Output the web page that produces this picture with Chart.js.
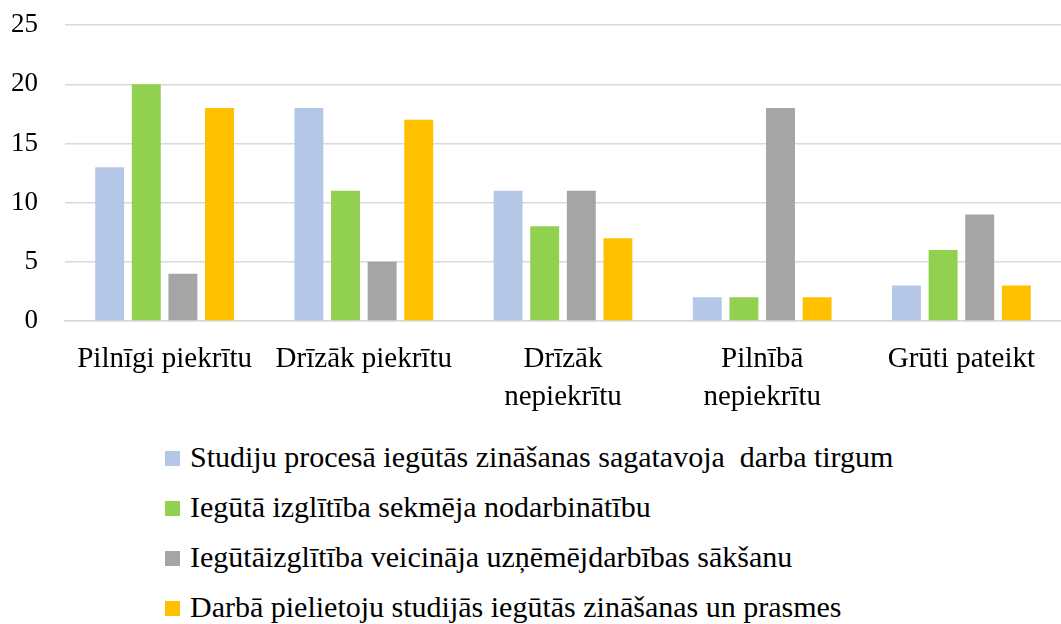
<!DOCTYPE html>
<html>
<head>
<meta charset="utf-8">
<script src="https://cdn.jsdelivr.net/npm/chart.js@4"></script>
<style>
  body { margin: 0; background: #fff; font-family: 'Liberation Serif'; }
  #wrap { position: relative; width: 1061px; height: 624px; overflow: hidden; }
  #chartBox { position: absolute; left: 0; top: -18px; width: 1061px; height: 438px; }
  #legend { position: absolute; left: 165px; top: 432px; font-size: 30px; color: #000; }
  .item { height: 50px; line-height: 50px; white-space: pre; }
  .box { display: inline-block; width: 15px; height: 15px; margin-right: 10px; vertical-align: middle; position: relative; top: -2px; }
</style>
</head>
<body>
<div id="wrap">
  <div id="chartBox"><canvas id="chart"></canvas></div>
  <div id="legend" style="font-family:'Liberation Serif'"></div>
</div>
<script>
// Kategorijas un sērijas
const categories = [
  'Pilnīgi piekrītu',
  'Drīzāk piekrītu',
  ['Drīzāk', 'nepiekrītu'],
  ['Pilnībā', 'nepiekrītu'],
  'Grūti pateikt'
];
const seriesNames = [
  'Studiju procesā iegūtās zināšanas sagatavoja  darba tirgum',
  'Iegūtā izglītība sekmēja nodarbinātību',
  'Iegūtāizglītība veicināja uzņēmējdarbības sākšanu',
  'Darbā pielietoju studijās iegūtās zināšanas un prasmes'
];
const studijuValues = [13, 18, 11, 2, 3];
const izglitibaValues = [20, 11, 8, 2, 6];
const uznemejdarbibaValues = [4, 5, 11, 18, 9];
const darbaValues = [18, 17, 7, 2, 3];
const colors = ['#B4C7E7', '#92D050', '#A5A5A5', '#FFC000'];
const yTicks = [0, 5, 10, 15, 20, 25];

const font = { family: 'Liberation Serif', size: 27 };

const ctx = document.getElementById('chart').getContext('2d');
const chart = new Chart(ctx, {
  type: 'bar',
  data: {
    labels: categories,
    datasets: [studijuValues, izglitibaValues, uznemejdarbibaValues, darbaValues].map((d, i) => ({
      label: seriesNames[i],
      data: d,
      backgroundColor: colors[i],
      categoryPercentage: 0.735,
      barPercentage: 0.79,
    })),
  },
  options: {
    responsive: true,
    maintainAspectRatio: false,
    animation: false,
    layout: { padding: { top: 12, right: 0, left: 0, bottom: 0 } },
    plugins: {
      legend: { display: false },
      tooltip: { enabled: false },
    },
    scales: {
      x: {
        grid: { display: false },
        border: { display: true, color: '#d9d9d9', width: 1.5 },
        ticks: { color: '#000', font: { family: 'Liberation Serif', size: 29, lineHeight: 1.3 }, padding: 12, maxRotation: 0, autoSkip: false },
        afterFit: (scale) => { scale.height = 99; },
      },
      y: {
        min: 0,
        max: 25,
        afterBuildTicks: (scale) => { scale.ticks = yTicks.map(v => ({ value: v })); },
        grid: { color: '#d9d9d9', lineWidth: 1.5, drawTicks: false },
        border: { display: false },
        ticks: { color: '#000', font: font, padding: 27 },
        afterFit: (scale) => { scale.width = 65; },
      },
    },
  },
});

// Leģenda zem diagrammas
const legendEl = document.getElementById('legend');
chart.data.datasets.forEach(ds => {
  const row = document.createElement('div');
  row.className = 'item';
  row.style.fontFamily = 'Liberation Serif';
  const box = document.createElement('span');
  box.className = 'box';
  box.style.backgroundColor = ds.backgroundColor;
  row.appendChild(box);
  row.appendChild(document.createTextNode(ds.label));
  legendEl.appendChild(row);
});
</script>
</body>
</html>
